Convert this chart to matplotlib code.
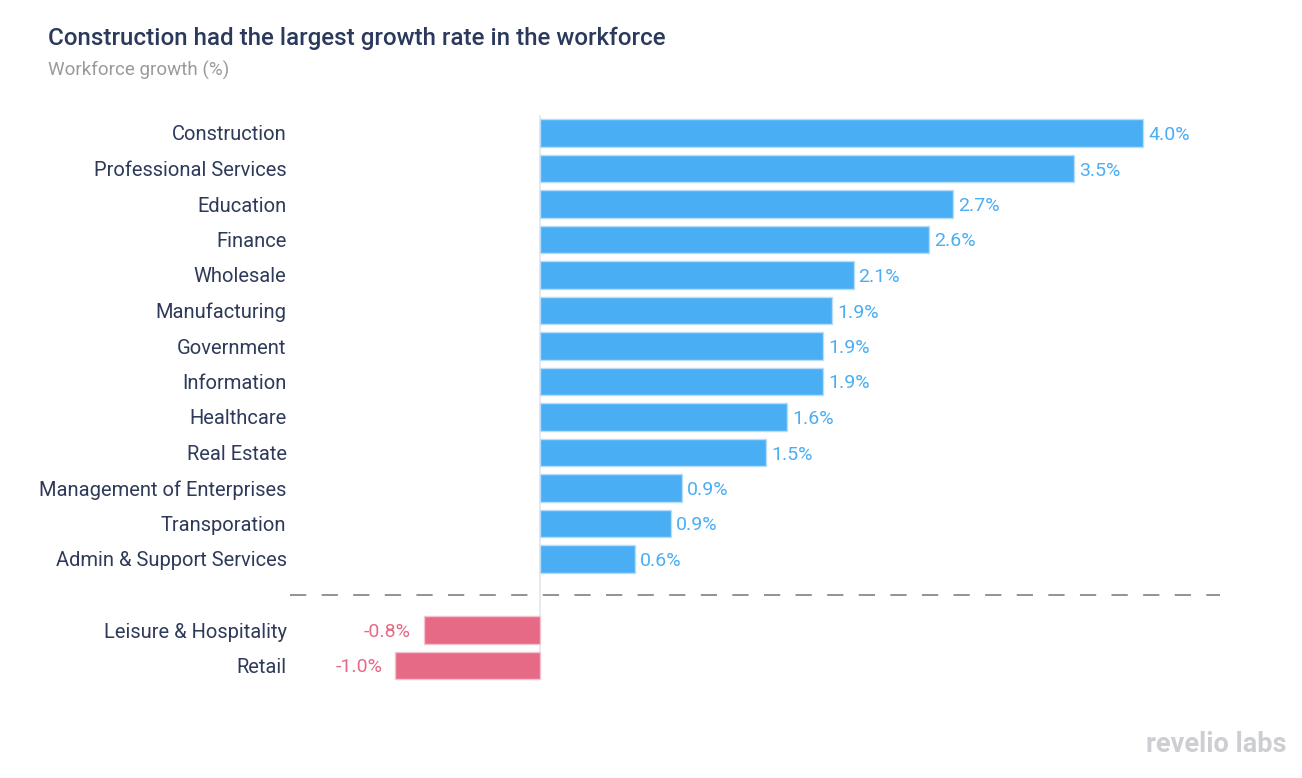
import matplotlib
matplotlib.use("Agg")
import matplotlib.pyplot as plt

categories = ["Construction", "Professional Services", "Education", "Finance", "Wholesale",
              "Manufacturing", "Government", "Information", "Healthcare", "Real Estate",
              "Management of Enterprises", "Transporation", "Admin & Support Services",
              "Leisure & Hospitality", "Retail"]
values = [4.0, 3.54, 2.74, 2.58, 2.08, 1.94, 1.88, 1.88, 1.64, 1.50, 0.94, 0.87, 0.63, -0.77, -0.96]
value_labels = ["4.0%", "3.5%", "2.7%", "2.6%", "2.1%", "1.9%", "1.9%", "1.9%", "1.6%", "1.5%",
                "0.9%", "0.9%", "0.6%", "-0.8%", "-1.0%"]
rows = [0, 1, 2, 3, 4, 5, 6, 7, 8, 9, 10, 11, 12, 14, 15]
separator_row = 13

plt.rcParams['font.family'] = ['Roboto', 'DejaVu Sans']

W, H = 1302, 778
fig = plt.figure(figsize=(W / 100, H / 100), dpi=100)
fig.patch.set_facecolor("white")

x0, x1 = 290, 1220
y0, y1 = 110, 690
ax = fig.add_axes([x0 / W, 1 - y1 / H, (x1 - x0) / W, (y1 - y0) / H])

px_per_unit = 150.75
zero_px = 540
ax.set_xlim((x0 - zero_px) / px_per_unit, (x1 - zero_px) / px_per_unit)
row_px = 35.5
first_px = 133
ax.set_ylim((y1 - first_px) / row_px, (y0 - first_px) / row_px)

blue = "#4AAEF4"
pink = "#E66A86"
colors = [blue if v >= 0 else pink for v in values]
edge = ["#B9DDF9" if v >= 0 else "#F2C3CF" for v in values]

ax.barh(rows, values, height=0.78, color=colors, edgecolor=edge, linewidth=1.0, zorder=2)

ax.vlines(0, -0.5, 15.42, color="#E3E6EC", linewidth=1.2, zorder=1)
ax.axhline(separator_row, color="#8A8A8A", linewidth=1.3, dashes=(9, 8.5), zorder=1)

off = 5 / px_per_unit
for r, v, lab, c in zip(rows, values, value_labels, colors):
    if v >= 0:
        ax.text(v + off, r, lab, ha="left", va="center_baseline", color=c, fontsize=14)
    else:
        ax.text(v - off * 2.6, r, lab, ha="right", va="center_baseline", color=c, fontsize=14)

ax.set_yticks(rows)
ax.set_yticklabels(categories, fontsize=14.5, color="#2E3A59", va="center_baseline")
ax.tick_params(axis="y", length=0, pad=2.5)
ax.set_xticks([])
for s in ax.spines.values():
    s.set_visible(False)

fig.text(48 / W, 1 - 38 / H, "Construction had the largest growth rate in the workforce",
         fontsize=17.4, fontweight="medium", color="#2B3A5C", ha="left", va="center")
fig.text(48 / W, 1 - 70 / H, "Workforce growth (%)", fontsize=13.5, color="#9A9A9A",
         ha="left", va="center")
fig.text(1286 / W, 1 - 745 / H, "revelio labs", fontsize=19.5, fontweight="bold",
         color="#CDCED1", ha="right", va="center")

fig.savefig("out.png", dpi=100, facecolor="white")
